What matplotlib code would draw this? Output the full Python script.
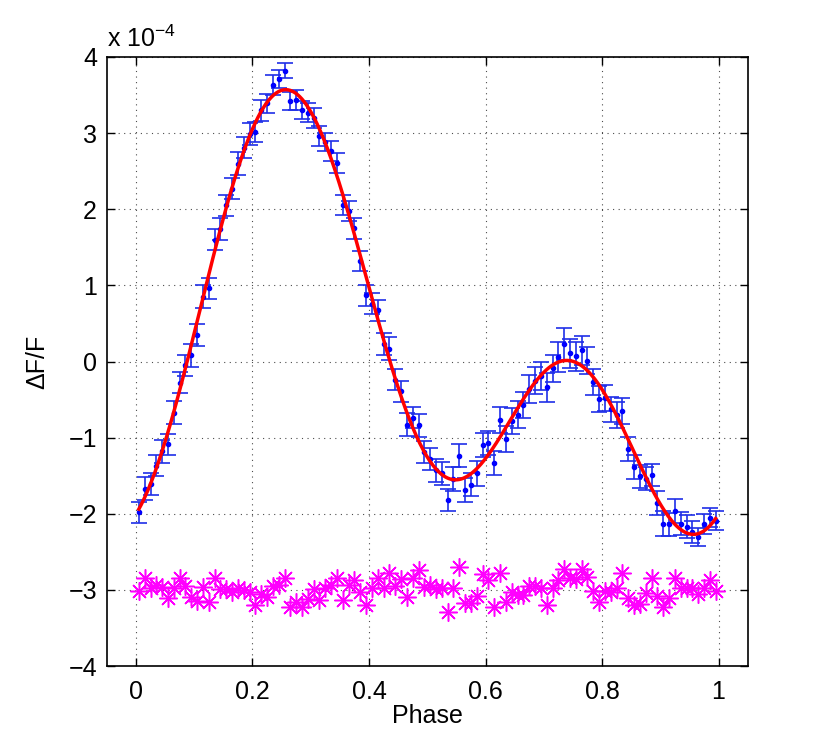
import numpy as np
import matplotlib
matplotlib.use("Agg")
import matplotlib.pyplot as plt

plt.rcParams['font.family'] = ['Liberation Sans', 'DejaVu Sans']

# phase bins (centres)
phase = np.round(np.arange(0.005, 1.0, 0.01), 3)

# binned light curve, units of 1e-4
flux = [-1.98, -1.67, -1.61, -1.37, -1.18, -1.09, -0.67, -0.28, -0.05, 0.08,
        0.35, 0.85, 0.96, 1.60, 1.74, 2.05, 2.27, 2.60, 2.81, 2.99,
        3.01, 3.30, 3.39, 3.63, 3.71, 3.82, 3.42, 3.43, 3.30, 3.27,
        3.20, 2.96, 2.88, 2.76, 2.61, 2.06, 1.98, 1.75, 1.32, 0.87,
        0.76, 0.67, 0.23, 0.17, -0.24, -0.39, -0.83, -0.74, -0.84, -1.19,
        -1.28, -1.43, -1.47, -1.82, -1.54, -1.24, -1.69, -1.62, -1.47, -1.10,
        -1.07, -1.33, -0.77, -1.02, -0.78, -0.70, -0.57, -0.36, -0.25, -0.19,
        -0.34, -0.09, 0.06, 0.23, 0.11, 0.07, 0.15, 0.01, -0.27, -0.49,
        -0.48, -0.63, -0.70, -0.65, -1.15, -1.39, -1.51, -1.54, -1.49, -1.86,
        -2.13, -2.14, -1.96, -2.13, -2.17, -2.24, -2.31, -2.13, -2.05, -2.09]

flux_err = [0.14, 0.15, 0.14, 0.14, 0.15, 0.14, 0.15, 0.14, 0.14, 0.15,
            0.14, 0.15, 0.14, 0.14, 0.15, 0.14, 0.14, 0.15, 0.14, 0.14,
            0.13, 0.14, 0.13, 0.13, 0.12, 0.10, 0.12, 0.13, 0.12, 0.13,
            0.13, 0.13, 0.12, 0.13, 0.13, 0.13, 0.13, 0.14, 0.13, 0.14,
            0.14, 0.14, 0.15, 0.15, 0.14, 0.14, 0.15, 0.14, 0.15, 0.14,
            0.15, 0.15, 0.15, 0.14, 0.16, 0.15, 0.16, 0.15, 0.16, 0.16,
            0.16, 0.16, 0.17, 0.17, 0.17, 0.18, 0.17, 0.18, 0.18, 0.18,
            0.19, 0.18, 0.20, 0.21, 0.19, 0.19, 0.19, 0.18, 0.17, 0.17,
            0.17, 0.16, 0.17, 0.17, 0.16, 0.16, 0.15, 0.15, 0.15, 0.16,
            0.16, 0.15, 0.16, 0.15, 0.15, 0.14, 0.12, 0.13, 0.13, 0.13]

# residual-like series, units of 1e-4
resid = [-3.02, -2.85, -2.98, -2.93, -2.96, -3.11, -2.97, -2.84, -2.95, -3.09,
         -3.14, -2.96, -3.16, -2.84, -2.99, -2.99, -3.03, -2.97, -3.00, -3.03,
         -3.20, -3.06, -3.10, -2.95, -2.93, -2.84, -3.22, -3.16, -3.23, -3.12,
         -2.99, -3.13, -2.97, -2.93, -2.85, -3.13, -2.94, -2.87, -3.03, -3.20,
         -2.98, -2.85, -2.98, -2.78, -2.95, -2.86, -3.10, -2.84, -2.74, -2.96,
         -2.94, -2.99, -2.97, -3.29, -2.97, -2.70, -3.17, -3.17, -3.08, -2.79,
         -2.87, -3.22, -2.78, -3.16, -3.03, -3.07, -3.07, -2.95, -2.95, -2.97,
         -3.20, -2.98, -2.87, -2.73, -2.85, -2.86, -2.73, -2.83, -3.01, -3.16,
         -3.01, -3.03, -2.97, -2.78, -3.11, -3.20, -3.18, -3.04, -2.85, -3.08,
         -3.22, -3.11, -2.85, -2.98, -2.97, -2.98, -3.06, -2.98, -2.87, -3.02]

xticks = [0, 0.2, 0.4, 0.6, 0.8, 1]
xticklabels = ['0', '0.2', '0.4', '0.6', '0.8', '1']
yticks = [-4, -3, -2, -1, 0, 1, 2, 3, 4]

# harmonic fit to the binned curve
x = np.array(phase)
y = np.array(flux)
nharm = 3
cols = [np.ones_like(x)]
for k in range(1, nharm + 1):
    cols += [np.sin(2 * np.pi * k * x), np.cos(2 * np.pi * k * x)]
A = np.column_stack(cols)
coef, *_ = np.linalg.lstsq(A, y, rcond=None)
xf = np.linspace(phase[0], phase[-1], 500)
cols_f = [np.ones_like(xf)]
for k in range(1, nharm + 1):
    cols_f += [np.sin(2 * np.pi * k * xf), np.cos(2 * np.pi * k * xf)]
yf = np.column_stack(cols_f) @ coef

fig = plt.figure(figsize=(8.28, 7.5), dpi=100)
ax = fig.add_axes([0.129, 0.112, 0.774, 0.812])

ax.errorbar(phase, flux, yerr=flux_err, fmt='.', color='b', ecolor='#1f2fe8',
            elinewidth=1.2, capsize=6, capthick=1.2, markersize=6, zorder=2)
ax.plot(xf, yf, color='r', lw=2.5, zorder=3)
# MATLAB-style asterisk marker
ax.plot(phase, resid, linestyle='none', marker=(8, 2, 0), color='#ff00ff',
        markersize=13, markeredgewidth=1.1, zorder=2)

ax.set_xlim(-0.05, 1.05)
ax.set_ylim(-4, 4)
ax.set_xticks(xticks)
ax.set_xticklabels(xticklabels)
ax.set_yticks(yticks)
ax.grid(True, linestyle=(0, (1, 4)), color='k', linewidth=0.8, alpha=0.7)
ax.tick_params(direction='in', top=True, right=True, labelsize=18, length=6, width=1)
ax.tick_params(axis='x', pad=10)
ax.tick_params(axis='y', pad=7)
for sp in ax.spines.values():
    sp.set_linewidth(1.2)

ax.set_xlabel('Phase', fontsize=18, labelpad=0)
ax.set_ylabel('ΔF/F', fontsize=18, labelpad=14)
ax.text(0.0, 1.008, r'x 10$^{\mathregular{-4}}$', transform=ax.transAxes,
        fontsize=18, ha='left', va='bottom')

fig.savefig('out.png', dpi=100)
